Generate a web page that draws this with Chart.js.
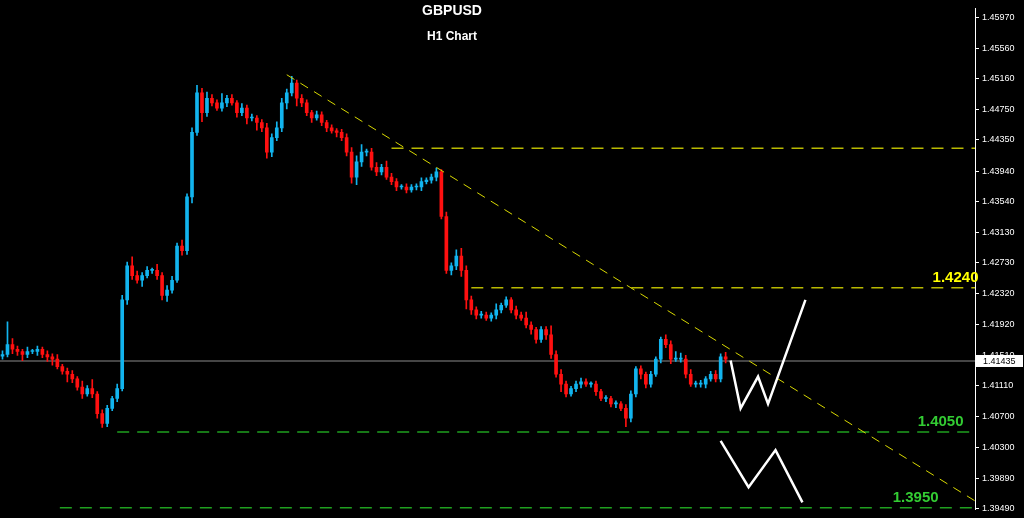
<!DOCTYPE html>
<html><head><meta charset="utf-8">
<script src="https://cdn.jsdelivr.net/npm/chart.js@4/dist/chart.umd.min.js"></script>
<style>html,body{margin:0;padding:0;background:#000;}#w{width:1024px;height:518px;}</style>
</head><body><div id="w"><canvas id="c"></canvas></div>
<script>
const closes=[1.4152,1.4165,1.4159,1.4156,1.4152,1.4156,1.4156,1.4159,1.4152,1.4149,
1.4146,1.4136,1.4130,1.4126,1.4120,1.4109,1.4100,1.4107,1.4100,1.4074,
1.4061,1.4081,1.4094,1.4107,1.4224,1.4269,1.4256,1.4250,1.4256,1.4263,
1.4263,1.4256,1.4230,1.4237,1.4250,1.4295,1.4289,1.4360,1.4445,1.4497,
1.4471,1.4490,1.4484,1.4477,1.4484,1.4490,1.4484,1.4471,1.4477,1.4464,
1.4464,1.4458,1.4451,1.4419,1.4438,1.4451,1.4484,1.4497,1.4510,1.4490,
1.4484,1.4471,1.4464,1.4468,1.4458,1.4451,1.4447,1.4445,1.4438,1.4419,
1.4386,1.4406,1.4419,1.4419,1.4399,1.4393,1.4399,1.4386,1.4380,1.4373,
1.4373,1.4369,1.4373,1.4373,1.4380,1.4382,1.4386,1.4393,1.4334,1.4263,
1.4269,1.4282,1.4263,1.4224,1.4211,1.4204,1.4204,1.4200,1.4204,1.4211,
1.4217,1.4224,1.4211,1.4204,1.4200,1.4191,1.4185,1.4172,1.4185,1.4178,
1.4152,1.4126,1.4113,1.4100,1.4107,1.4113,1.4116,1.4113,1.4113,1.4103,
1.4094,1.4094,1.4087,1.4087,1.4081,1.4068,1.4100,1.4133,1.4126,1.4113,
1.4126,1.4146,1.4172,1.4165,1.4146,1.4146,1.4146,1.4126,1.4113,1.4113,
1.4113,1.4120,1.4126,1.4120,1.4149,1.4146];
const firstOpen=1.4150;
const wickUpPips=[5,30,8,4,3,6,3,4,3,5, 4,6,3,4,5,3,8,4,12,3, 5,4,3,6,6,5,12,6,4,5, 3,8,4,6,5,4,8,4,6,10,
6,8,5,4,12,4,5,3,6,4, 5,3,4,6,5,8,6,5,9,4, 5,4,3,5,4,3,4,3,4,5, 6,8,10,4,5,6,4,8,5,4,
3,4,3,4,5,3,4,5,3,6, 4,8,10,6,5,4,5,4,3,8, 3,4,3,5,4,8,4,3,4,4, 12,5,6,4,3,4,5,4,3,4,
3,4,3,4,3,5,4,3,4,3, 4,3,3,6,5,10,8,5,6,4, 5,3,4,5,4,6];
const wickDnPips=[4,3,6,5,8,4,3,5,4,6, 8,3,4,10,5,4,6,3,5,6, 5,4,3,4,3,6,5,4,8,3, 4,5,6,8,4,3,6,5,8,4,
12,5,4,3,4,5,3,6,4,8, 4,10,5,8,6,4,5,8,4,10, 5,4,6,3,4,5,3,6,4,5, 8,10,6,5,4,5,4,3,4,5,
3,4,3,4,5,3,4,5,3,4, 6,5,8,12,6,5,4,3,4,5, 4,3,4,5,3,4,6,5,4,6, 5,4,10,4,3,4,5,3,4,5,
3,4,4,5,3,11,5,4,6,5, 4,3,5,4,6,3,4,5,3,4, 4,5,3,4,4,5];
const tickValues=[1.45970,1.45560,1.45160,1.44750,1.44350,1.43940,1.43540,1.43130,1.42730,1.42320,1.41920,1.41510,1.41110,1.40700,1.40300,1.39890,1.39490];
const tickLabels=["1.45970","1.45560","1.45160","1.44750","1.44350","1.43940","1.43540","1.43130","1.42730","1.42320","1.41920","1.41510","1.41110","1.40700","1.40300","1.39890","1.39490"];
const currentPrice=1.41435;
const levels=[{p:1.4424,from:78,label:null,color:'#b8b800'},{p:1.4240,from:94,label:'1.4240',color:'#b8b800',tc:'#ffff00',lx:195.7},
{p:1.4050,from:23,label:'1.4050',color:'#1fa01f',tc:'#33cc33',lx:192.7},{p:1.3950,from:11.5,label:'1.3950',color:'#1fa01f',tc:'#33cc33',lx:187.7}];
const trendLine=[{x:57,y:1.4521},{x:195,y:1.3959}];
const zigUpper=[{x:146,y:1.4144},{x:148,y:1.4081},{x:151.5,y:1.4123},{x:153.5,y:1.4087},{x:161,y:1.4224}];
const zigLower=[{x:144,y:1.4038},{x:149.6,y:1.3977},{x:155,y:1.4026},{x:160.4,y:1.3957}];

const opens=closes.map((c,i)=>i===0?firstOpen:closes[i-1]);
const wick=[],body=[],cols=[];
closes.forEach((c,i)=>{const o=opens[i];const hi=Math.max(o,c)+(wickUpPips[i]??4)/10000;const lo=Math.min(o,c)-(wickDnPips[i]??4)/10000;
 wick.push({x:i,y:[lo,hi]});body.push({x:i,y:[Math.min(o,c),Math.max(o,c)+(o===c?0.00003:0)]});cols.push(c>=o?'#12b4ee':'#ff1010');});
const ds=[
 {type:'bar',data:wick,backgroundColor:cols,barThickness:1,grouped:false,order:3},
 {type:'bar',data:body,backgroundColor:cols,barThickness:3,grouped:false,order:2,minBarLength:1},
 {type:'line',data:[{x:-1,y:currentPrice},{x:196,y:currentPrice}],borderColor:'#8a8a8a',borderWidth:1.2,pointRadius:0,order:4},
 {type:'line',data:trendLine,borderColor:'#d8d800',borderWidth:1,borderDash:[9,7],pointRadius:0,order:1},
 {type:'line',data:zigUpper,borderColor:'#ffffff',borderWidth:2.5,pointRadius:0,order:0},
 {type:'line',data:zigLower,borderColor:'#ffffff',borderWidth:2.5,pointRadius:0,order:0}];
levels.forEach(l=>ds.push({type:'line',data:[{x:l.from,y:l.p},{x:196,y:l.p}],borderColor:l.color,borderWidth:1.5,borderDash:[12,8],pointRadius:0,order:1}));
const overlay={id:'ov',beforeDraw(ch){const c=ch.ctx;c.save();c.fillStyle='#000';c.fillRect(0,0,ch.width,ch.height);c.restore();},
 afterDraw(ch){const c=ch.ctx,xs=ch.scales.x,ys=ch.scales.y;c.save();c.textAlign='center';c.fillStyle='#fff';
 c.font='bold 14px "Liberation Sans",Arial';c.fillText('GBPUSD',452,15);
 c.font='bold 12px "Liberation Sans",Arial';c.fillText('H1 Chart',452,40);
 c.font='bold 15px "Liberation Sans",Arial';c.textAlign='right';
 levels.forEach(l=>{if(!l.label)return;c.fillStyle=l.tc;c.fillText(l.label,xs.getPixelForValue(l.lx),ys.getPixelForValue(l.p)-6);});
 const y=ys.getPixelForValue(currentPrice);c.fillStyle='#fff';c.fillRect(ch.chartArea.right+1,y-6,47,12);
 c.fillStyle='#000';c.font='9px "Liberation Sans",Arial';c.textAlign='left';c.textBaseline='middle';c.fillText('1.41435',ch.chartArea.right+8,y+0.5);
 c.restore();}};
new Chart(document.getElementById('c'),{data:{datasets:ds},plugins:[overlay],
options:{responsive:true,maintainAspectRatio:false,animation:false,layout:{padding:0},
 plugins:{legend:{display:false},tooltip:{enabled:false}},
 scales:{x:{type:'linear',min:-0.5,max:195,display:false,offset:false},
 y:{position:'right',min:1.39475,max:1.46085,afterFit(s){s.width=49;},
  afterBuildTicks(s){s.ticks=tickValues.map(v=>({value:v}));},
  ticks:{color:'#fff',font:{size:9,family:'"Liberation Sans",Arial'},padding:3,autoSkip:false,callback:(v,i)=>tickLabels[i]},
  grid:{drawOnChartArea:false,color:'#fff',tickLength:4},border:{color:'#fff',width:1}}}}});
</script></body></html>
